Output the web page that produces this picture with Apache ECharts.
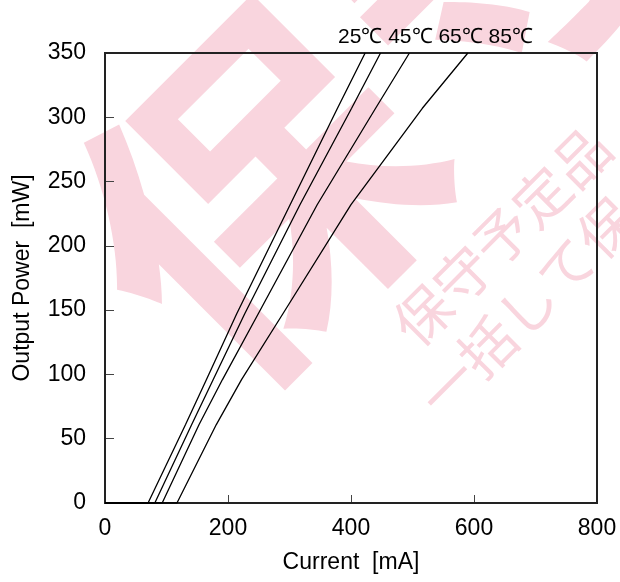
<!DOCTYPE html>
<html>
<head>
<meta charset="utf-8">
<script src="https://cdn.jsdelivr.net/npm/echarts@6/dist/echarts.min.js"></script>
<style>html,body{margin:0;padding:0;background:#fff}#c{width:620px;height:582px}</style>
</head>
<body>
<div id="c"></div>
<script>
// ---- data ----
const power = [0, 0, 61, 96, 147, 232, 307, 350];
const current25 = [0, 70, 131, 165, 214, 301, 378, 423];
const current45 = [0, 81, 141, 176, 227, 317, 401, 448];
const current65 = [0, 93, 153, 191, 249, 345, 440, 495];
const current85 = [0, 117, 181, 222, 289, 400, 516, 590];
const seriesNames = ['25℃', '45℃', '65℃', '85℃'];
const xTicks = { min: 0, max: 800, interval: 200 };
const yTicks = { min: 0, max: 350, interval: 50 };
const tempLabel = '25℃ 45℃ 65℃ 85℃';
const xName = 'Current  [mA]';
const yName = 'Output Power  [mW]';

function pairs(xs, ys) { return xs.map((x, i) => [x, ys[i]]); }
const allCurrents = [current25, current45, current65, current85];

const chart = echarts.init(document.getElementById('c'), null, { renderer: 'canvas' });
const FONT = 'Liberation Sans, Arial, sans-serif';
const PINK = '#f9d5de';
const wm = [];
// big watermark characters
wm.push({ type: 'text', x: 255, y: 196, rotation: Math.PI / 4, z: -10,
  style: { text: '保', fill: PINK, font: 'bold 340px "Noto Sans CJK JP"', textAlign: 'center', textVerticalAlign: 'middle' } });
wm.push({ type: 'text', x: 490, y: -68, rotation: Math.PI / 4, z: -10,
  style: { text: '守', fill: PINK, font: 'bold 340px "Noto Sans CJK JP"', textAlign: 'center', textVerticalAlign: 'middle' } });
// small watermark lines
wm.push({ type: 'text', x: 502, y: 236, rotation: Math.PI / 4, z: -10,
  style: { text: '保守予定品', fill: PINK, font: '56px "Noto Sans CJK JP"', textAlign: 'center', textVerticalAlign: 'middle' } });
wm.push({ type: 'text', x: 527, y: 307, rotation: Math.PI / 4, z: -10,
  style: { text: '一括して保', fill: PINK, font: '56px "Noto Sans CJK JP"', textAlign: 'center', textVerticalAlign: 'middle' } });

const option = {
  animation: false,
  backgroundColor: '#fff',
  graphic: { elements: wm },
  title: {
    text: tempLabel, left: 333, top: 22,
    textStyle: { fontFamily: FONT, fontSize: 21, fontWeight: 'normal', color: '#000' }
  },
  grid: { left: 105, right: 23, top: 53, bottom: 79, show: true, borderColor: '#222', borderWidth: 2, backgroundColor: 'transparent', z: 3 },
  xAxis: {
    type: 'value', min: xTicks.min, max: xTicks.max, interval: xTicks.interval,
    name: xName, nameLocation: 'middle', nameGap: 48,
    nameTextStyle: { fontFamily: FONT, fontSize: 23, color: '#000' },
    axisLine: { show: true, lineStyle: { color: '#222', width: 2 } },
    axisTick: { show: true, inside: true, length: 8, lineStyle: { color: '#444', width: 1 } },
    axisLabel: { fontFamily: FONT, fontSize: 23, color: '#000', margin: 14 },
    splitLine: { show: false }
  },
  yAxis: {
    type: 'value', min: yTicks.min, max: yTicks.max, interval: yTicks.interval,
    name: yName, nameLocation: 'middle', nameGap: 71,
    nameTextStyle: { fontFamily: FONT, fontSize: 23, color: '#000' },
    axisLine: { show: true, lineStyle: { color: '#222', width: 2 } },
    axisTick: { show: true, inside: true, length: 9, lineStyle: { color: '#444', width: 1 } },
    axisLabel: { fontFamily: FONT, fontSize: 23, color: '#000', margin: 19 },
    splitLine: { show: false }
  },
  series: allCurrents.map((cur, i) => ({
    name: seriesNames[i], type: 'line', data: pairs(cur, power),
    showSymbol: false, symbol: 'none', smooth: false, clip: true,
    lineStyle: { color: '#000', width: 1.3 }, z: 5
  }))
};
chart.setOption(option);
</script>
</body>
</html>
